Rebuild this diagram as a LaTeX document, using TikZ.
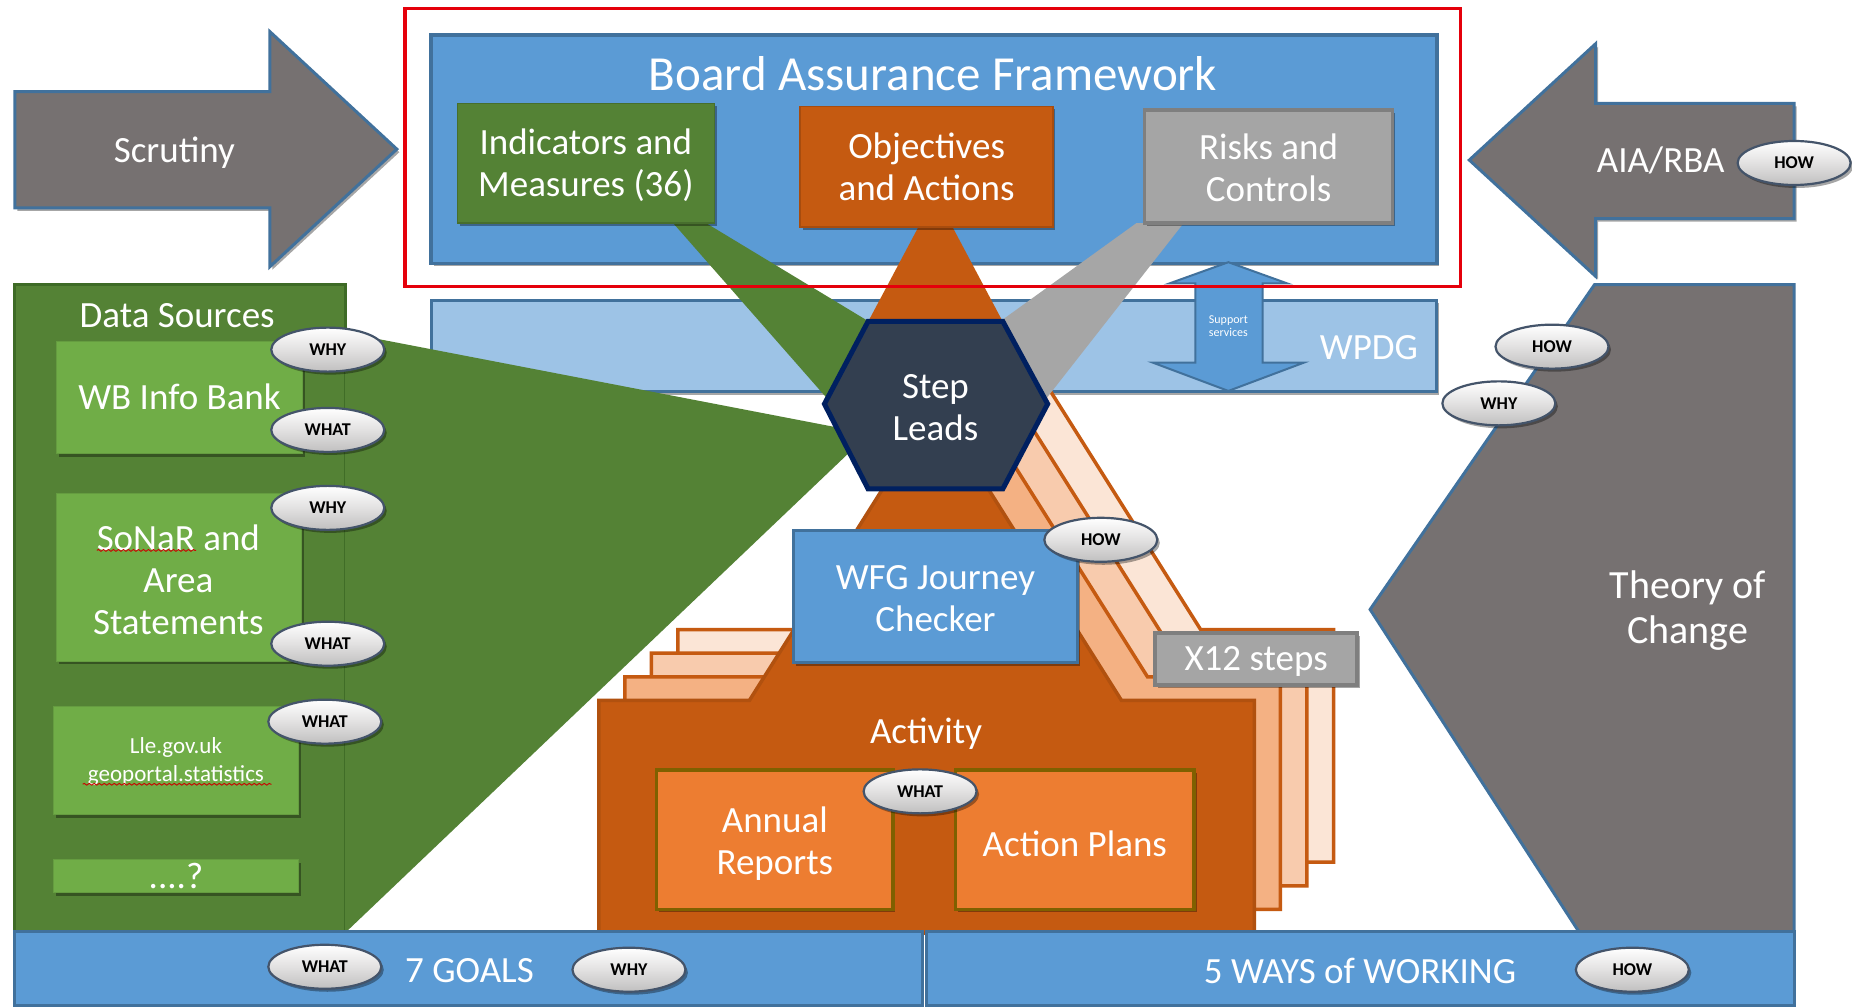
\documentclass[tikz,border=0pt]{standalone}
\usepackage{fontspec}
\setmainfont{Carlito}
\usetikzlibrary{shapes.geometric,fit,shadows,decorations.pathmorphing}
\definecolor{mblue}{HTML}{5B9BD5}
\definecolor{dblue}{HTML}{41719C}
\definecolor{lblue}{HTML}{9DC3E6}
\definecolor{dgreen}{HTML}{548235}
\definecolor{ddgreen}{HTML}{3E6B26}
\definecolor{lgreen}{HTML}{70AD47}
\definecolor{agrey}{HTML}{767171}
\definecolor{orng}{HTML}{C55A11}
\definecolor{lorng}{HTML}{ED7D31}
\definecolor{olive}{HTML}{7F6000}
\definecolor{peachA}{HTML}{F4B183}
\definecolor{peachB}{HTML}{F8CBAD}
\definecolor{peachC}{HTML}{FBE5D6}
\definecolor{navy}{HTML}{333F50}
\definecolor{navyb}{HTML}{002060}
\definecolor{gbox}{HTML}{A5A5A5}
\definecolor{gboxb}{HTML}{7F7F7F}
\definecolor{wedgegrey}{HTML}{A6A6A6}
\definecolor{ovalfill}{HTML}{E2E1E1}
\definecolor{ovalb}{HTML}{44546A}
\definecolor{redline}{HTML}{E5000B}
\tikzset{
  big/.style={font=\fontsize{37}{42}\selectfont, text=white, align=center},
  panel/.style={inner sep=0pt},
  shad/.style={drop shadow={shadow xshift=2.5pt, shadow yshift=-3pt, opacity=0.35, fill=black}},
  oval/.style={ellipse, draw=ovalb, line width=2.2pt, top color=white, bottom color=ovalfill!85!black, middle color=ovalfill,
    minimum width=113pt, minimum height=44pt, inner sep=0pt, font=\bfseries\fontsize{18}{18}\selectfont, text=black, shad},
  squig/.style={draw=red!80!black, line width=0.9pt, decorate, decoration={snake, segment length=5pt, amplitude=0.9pt}},
}
\newcommand{\actshape}[4]{%
  \filldraw[shift={(#1,#2)}, fill=#3, draw=#4, line width=3.5pt, line join=miter]
    (792,343) -- (949.5,593) -- (1062,593) -- (1062,790) -- (507,790) -- (507,593) -- (634.5,593) -- cycle;}
\begin{document}
\begin{tikzpicture}[x=1.1811pt, y=-1.1811pt]
\useasboundingbox (0,0) rectangle (1568,853);
\fill[white] (0,0) rectangle (1568,853);

% side arrows
\filldraw[fill=agrey, draw=dblue, line width=3pt, line join=miter, shad]
  (12.5,77.6) -- (228.5,77.6) -- (228.5,26.8) -- (336,126.3) -- (228.5,225.8) -- (228.5,176) -- (12.5,176) -- cycle;
\node[big] (scrutiny) at (147.6,129) {Scrutiny};
\filldraw[fill=agrey, draw=dblue, line width=3pt, line join=miter, shad]
  (1519,87.5) -- (1351,87.5) -- (1351,37) -- (1244,135.5) -- (1351,234) -- (1351,185) -- (1519,185) -- cycle;
\node[big] (aia) at (1406,136) {AIA/RBA};

% Board Assurance Framework
\node[fit={(365,29.6)(1216.5,223)}, panel, fill=mblue, draw=dblue, line width=3.5pt, shad] (baf) {};
\node[font=\fontsize{49}{56}\selectfont, text=white] (baftitle) at (790,62) {Board Assurance Framework};

% Data sources panel
\node[fit={(12.5,241)(292.5,800)}, panel, fill=dgreen, draw=ddgreen, line width=3pt] (ds) {};
\node[big] (dstitle) at (150,267) {Data Sources};

% Theory of change
\filldraw[fill=agrey, draw=dblue, line width=3pt, line join=miter]
  (1350,241) -- (1519,241) -- (1519,800) -- (1344,800) -- (1160,516) -- cycle;
\node[font=\fontsize{40}{45}\selectfont, text=white, align=center] (toc) at (1429,517) {Theory of\\Change};

% WPDG
\node[fit={(365.6,254)(1216.5,331.6)}, panel, fill=lblue, draw=dblue, line width=3pt, shad] (wpdg) {};
\node[big] (wpdgt) at (1159,294) {WPDG};
\filldraw[fill=mblue, draw=dblue, line width=2pt, line join=miter]
  (1040,222) -- (1090,240) -- (1069,240) -- (1069,307) -- (1104,307) -- (1040,331) -- (976,307) -- (1012,307) -- (1012,240) -- (990,240) -- cycle;
\node[font=\fontsize{12}{13}\selectfont, text=white, align=center] (supp) at (1040,276) {Support\\services};

% stacked step copies and main activity pyramid
\actshape{67}{-60}{peachC}{orng}
\actshape{44.5}{-40}{peachB}{orng}
\actshape{22}{-20}{peachA}{orng}
\actshape{0}{0}{orng}{orng!90!black}
\fill[orng] (792,165) -- (852,278) -- (732,278) -- cycle;

% wedges
\fill[dgreen] (292,281.6) -- (725,365) -- (725,377.5) -- (292,790) -- cycle;
\fill[dgreen] (570,189) -- (598,189) -- (765,290) -- (707,345) -- cycle;
\fill[wedgegrey] (962,189) -- (1002,189) -- (876,350) -- (822,290) -- cycle;

% BAF boxes
\node[fit={(387.5,87.5)(605,189)}, panel, fill=dgreen, draw=dgreen!85!black, line width=1.5pt, shad] (ind) {};
\node[big] (indt) at (496,139.5) {Indicators and\\Measures (36)};
\node[fit={(677.5,90)(891.5,192)}, panel, fill=orng, draw=orng!85!black, line width=1.5pt, shad] (obj) {};
\node[big] (objt) at (784.5,141.5) {Objectives\\and Actions};
\node[fit={(969,93)(1179,189)}, panel, fill=gbox, draw=gboxb, line width=3.5pt, shad] (risk) {};
\node[big] (riskt) at (1074,142) {Risks and\\Controls};

% Step leads hexagon
\filldraw[fill=navy, draw=navyb, line width=5pt, line join=miter]
  (698,342) -- (735,272) -- (849,272) -- (887,342) -- (849,414) -- (735,414) -- cycle;
\node[big] (step) at (792,345) {Step\\Leads};

% WFG checker and X12
\node[fit={(672,449)(912,561)}, panel, fill=mblue, draw=dblue, line width=3pt, shad] (wfg) {};
\node[big] (wfgt) at (792,506.5) {WFG Journey\\Checker};
\node[fit={(978,536)(1149,580)}, panel, fill=gbox, draw=gboxb, line width=3.5pt, shad] (x12) {};
\node[big] (x12t) at (1063.5,560) {X12 steps};

% Activity
\node[big] (act) at (784,621) {Activity};
\node[fit={(556,652)(756,770)}, panel, fill=lorng, draw=olive, line width=3.5pt, shad] (annual) {};
\node[big] (annualt) at (656,714) {Annual\\Reports};
\node[fit={(809,652)(1011,770)}, panel, fill=lorng, draw=olive, line width=3.5pt, shad] (plans) {};
\node[big] (planst) at (910,714) {Action Plans};

% data source boxes
\node[fit={(48,289)(256,384)}, panel, fill=lgreen, draw=lgreen!90!black, line width=1pt, shad] (wb) {};
\node[big] (wbt) at (152,336) {WB Info Bank};
\node[fit={(47.5,418)(255,560)}, panel, fill=lgreen, draw=lgreen!90!black, line width=1pt, shad] (sonar) {};
\node[big] (sonart) at (151,490.5) {SoNaR and\\Area\\Statements};
\node[fit={(45,598.5)(252.5,690)}, panel, fill=lgreen, draw=lgreen!90!black, line width=1pt, shad] (lle) {};
\node[font=\fontsize{23}{28}\selectfont, text=white, align=center] (llet) at (149,645) {Lle.gov.uk\\geoportal.statistics};
\node[fit={(45,728)(252.5,756)}, panel, fill=lgreen, draw=lgreen!90!black, line width=1pt, shad] (more) {};
\node[big] (moret) at (149,742) {....?};
\path[squig] (82,466) -- (166,466);
\path[squig] (70,664) -- (230,664);

% bottom bars
\node[fit={(12.5,789)(781,851)}, panel, fill=mblue, draw=dblue, line width=3pt] (goals) {};
\node[fit={(784,789)(1519,851)}, panel, fill=mblue, draw=dblue, line width=3pt] (ways) {};
\node[big] (goalst) at (397.5,822) {7 GOALS};
\node[big] (wayst) at (1151.5,822) {5 WAYS of WORKING};

% ovals
\node[oval] (o1) at (1519,138) {HOW};
\node[oval] (o2) at (277.5,296) {WHY};
\node[oval] (o3) at (277.5,364) {WHAT};
\node[oval] (o4) at (277.5,430) {WHY};
\node[oval] (o5) at (277.5,545) {WHAT};
\node[oval] (o6) at (275,611) {WHAT};
\node[oval] (o7) at (1314,293.5) {HOW};
\node[oval] (o8) at (1269,341.5) {WHY};
\node[oval] (o9) at (932,457) {HOW};
\node[oval] (o10) at (779,670) {WHAT};
\node[oval] (o11) at (275,818.5) {WHAT};
\node[oval] (o12) at (532.5,821) {WHY};
\node[oval] (o13) at (1382,821) {HOW};

% red highlight frame
\node[fit={(343,7)(1236.5,242.7)}, inner sep=0pt, draw=redline, line width=3.5pt] (focus) {};
\end{tikzpicture}
\end{document}
